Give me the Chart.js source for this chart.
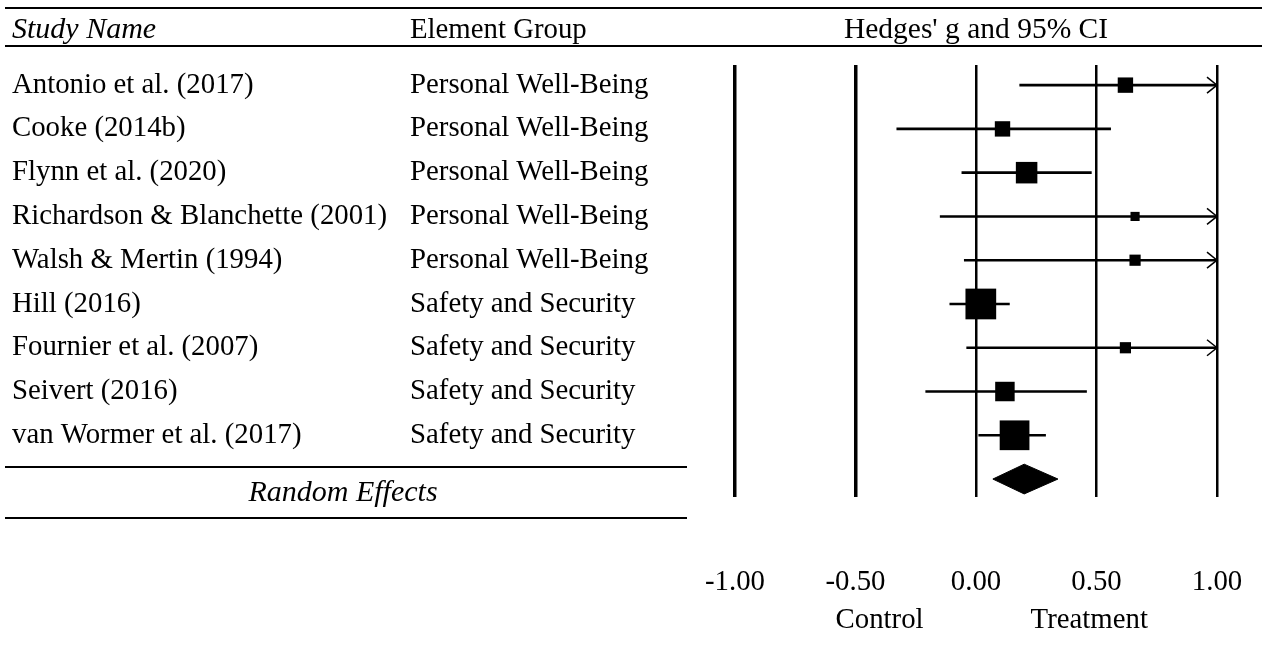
<!DOCTYPE html>
<html>
<head>
<meta charset="utf-8">
<script src="https://cdn.jsdelivr.net/npm/chart.js@4/dist/chart.umd.min.js"></script>
<style>
  html, body { margin: 0; background: #fff; }
  #wrap { width: 1265px; height: 649px; position: relative; }
</style>
</head>
<body>
<div id="wrap"><canvas id="forest"></canvas></div>
<script>
// study table
var studies = ["Antonio et al. (2017)", "Cooke (2014b)", "Flynn et al. (2020)",
  "Richardson & Blanchette (2001)", "Walsh & Mertin (1994)", "Hill (2016)",
  "Fournier et al. (2007)", "Seivert (2016)", "van Wormer et al. (2017)"];
var groups = ["Personal Well-Being", "Personal Well-Being", "Personal Well-Being",
  "Personal Well-Being", "Personal Well-Being", "Safety and Security",
  "Safety and Security", "Safety and Security", "Safety and Security"];

// Hedges' g with 95% CI (upper limits past 1.00 are cut off by an arrow)
var effects = [0.62, 0.11, 0.21, 0.66, 0.66, 0.02, 0.62, 0.12, 0.16];
var lower   = [0.18, -0.33, -0.06, -0.15, -0.05, -0.11, -0.04, -0.21, 0.01];
var upper   = [1.06, 0.56, 0.48, 1.47, 1.37, 0.14, 1.28, 0.46, 0.29];
// relative study weights (%)
var weights = [6.8, 6.8, 13.3, 2.4, 3.6, 27.1, 3.6, 10.9, 25.4];

// random effects summary: lower, g, upper
var pooled = [0.07, 0.20, 0.34];

var xTicks = [-1.00, -0.50, 0.00, 0.50, 1.00];

var serif = "'Liberation Serif', 'Times New Roman', serif";
var xMin = xTicks[0], xMax = xTicks[xTicks.length - 1];
var pooledRow = studies.length;

// CI segments as one line broken by gaps
var ciData = [];
for (var i = 0; i < studies.length; i++) {
  ciData.push({x: lower[i], y: i});
  ciData.push({x: upper[i], y: i});
  ciData.push({x: null, y: null});
}

var squareData = effects.map(function(g, i) { return {x: g, y: i}; });
// square side grows with sqrt(weight); chart.js 'rect' side = 2 * r * SQRT1_2
var squareRadius = weights.map(function(w) { return Math.sqrt(w) * 5.9 / (2 * Math.SQRT1_2); });

var dh = 0.34;
var diamondData = [
  {x: pooled[0], y: pooledRow},
  {x: pooled[1], y: pooledRow - dh},
  {x: pooled[2], y: pooledRow},
  {x: pooled[1], y: pooledRow + dh},
  {x: pooled[0], y: pooledRow}
];

var tablePlugin = {
  id: 'table',
  afterDraw: function(chart) {
    var ctx = chart.ctx;
    var ys = chart.scales.y, xs = chart.scales.x;
    ctx.save();
    ctx.fillStyle = '#000';
    ctx.strokeStyle = '#000';

    // rules
    ctx.lineWidth = 2;
    ctx.beginPath();
    ctx.moveTo(5, 8); ctx.lineTo(1262, 8);
    ctx.moveTo(5, 46); ctx.lineTo(1262, 46);
    ctx.moveTo(5, 467); ctx.lineTo(687, 467);
    ctx.moveTo(5, 518); ctx.lineTo(687, 518);
    ctx.stroke();

    ctx.textBaseline = 'middle';
    ctx.textAlign = 'left';
    ctx.font = 'italic 30px ' + serif;
    ctx.fillText('Study Name', 12, 30);
    ctx.font = '28.8px ' + serif;
    ctx.fillText('Element Group', 410, 30);
    ctx.textAlign = 'center';
    ctx.font = '29.5px ' + serif;
    ctx.fillText("Hedges' g and 95% CI", 976, 30);

    ctx.font = '28.8px ' + serif;
    ctx.textAlign = 'left';
    for (var i = 0; i < studies.length; i++) {
      var y = ys.getPixelForValue(i);
      ctx.fillText(studies[i], 12, y);
      ctx.fillText(groups[i], 410, y);
    }
    ctx.textAlign = 'center';
    ctx.font = 'italic 30px ' + serif;
    ctx.fillText('Random Effects', 343, 493);

    ctx.font = '28.8px ' + serif;
    ctx.fillText('Control', xs.getPixelForValue(-0.40), 620);
    ctx.fillText('Treatment', xs.getPixelForValue(0.47), 620);

    // arrows for CIs running past the axis
    ctx.lineWidth = 1.5;
    for (var j = 0; j < studies.length; j++) {
      if (upper[j] > xMax) {
        var ax = xs.getPixelForValue(xMax), ay = ys.getPixelForValue(j);
        ctx.beginPath();
        ctx.moveTo(ax - 10, ay - 8);
        ctx.lineTo(ax, ay);
        ctx.lineTo(ax - 10, ay + 8);
        ctx.stroke();
      }
    }
    ctx.restore();
  }
};

new Chart(document.getElementById('forest'), {
  type: 'scatter',
  data: {
    datasets: [
      {
        type: 'line',
        data: ciData,
        borderColor: '#000',
        borderWidth: 2.6,
        pointRadius: 0,
        spanGaps: false,
        clip: 0
      },
      {
        type: 'scatter',
        data: squareData,
        pointStyle: 'rect',
        pointRadius: squareRadius,
        backgroundColor: '#000',
        borderWidth: 0
      },
      {
        type: 'line',
        data: diamondData,
        borderColor: '#000',
        backgroundColor: '#000',
        borderWidth: 1,
        pointRadius: 0,
        fill: 'shape'
      }
    ]
  },
  options: {
    responsive: true,
    maintainAspectRatio: false,
    animation: false,
    events: [],
    layout: { padding: { left: 735, right: 48, top: 65, bottom: 0 } },
    plugins: { legend: { display: false }, tooltip: { enabled: false } },
    scales: {
      x: {
        type: 'linear',
        min: xMin,
        max: xMax,
        afterBuildTicks: function(scale) {
          scale.ticks = xTicks.map(function(v) { return {value: v}; });
        },
        afterFit: function(scale) {
          scale.height = 152;
          scale.paddingLeft = 0;
          scale.paddingRight = 0;
        },
        grid: {
          color: '#000',
          lineWidth: function(c) { return c.tick && c.tick.value < 0 ? 3.5 : 2.5; },
          drawTicks: false
        },
        border: { display: false },
        ticks: {
          padding: 68,
          color: '#000',
          font: { family: serif, size: 28.8 },
          callback: function(v) { return Number(v).toFixed(2); }
        }
      },
      y: {
        type: 'linear',
        reverse: true,
        min: -0.46,
        max: pooledRow + 0.41,
        display: false
      }
    }
  },
  plugins: [tablePlugin]
});
</script>
</body>
</html>
